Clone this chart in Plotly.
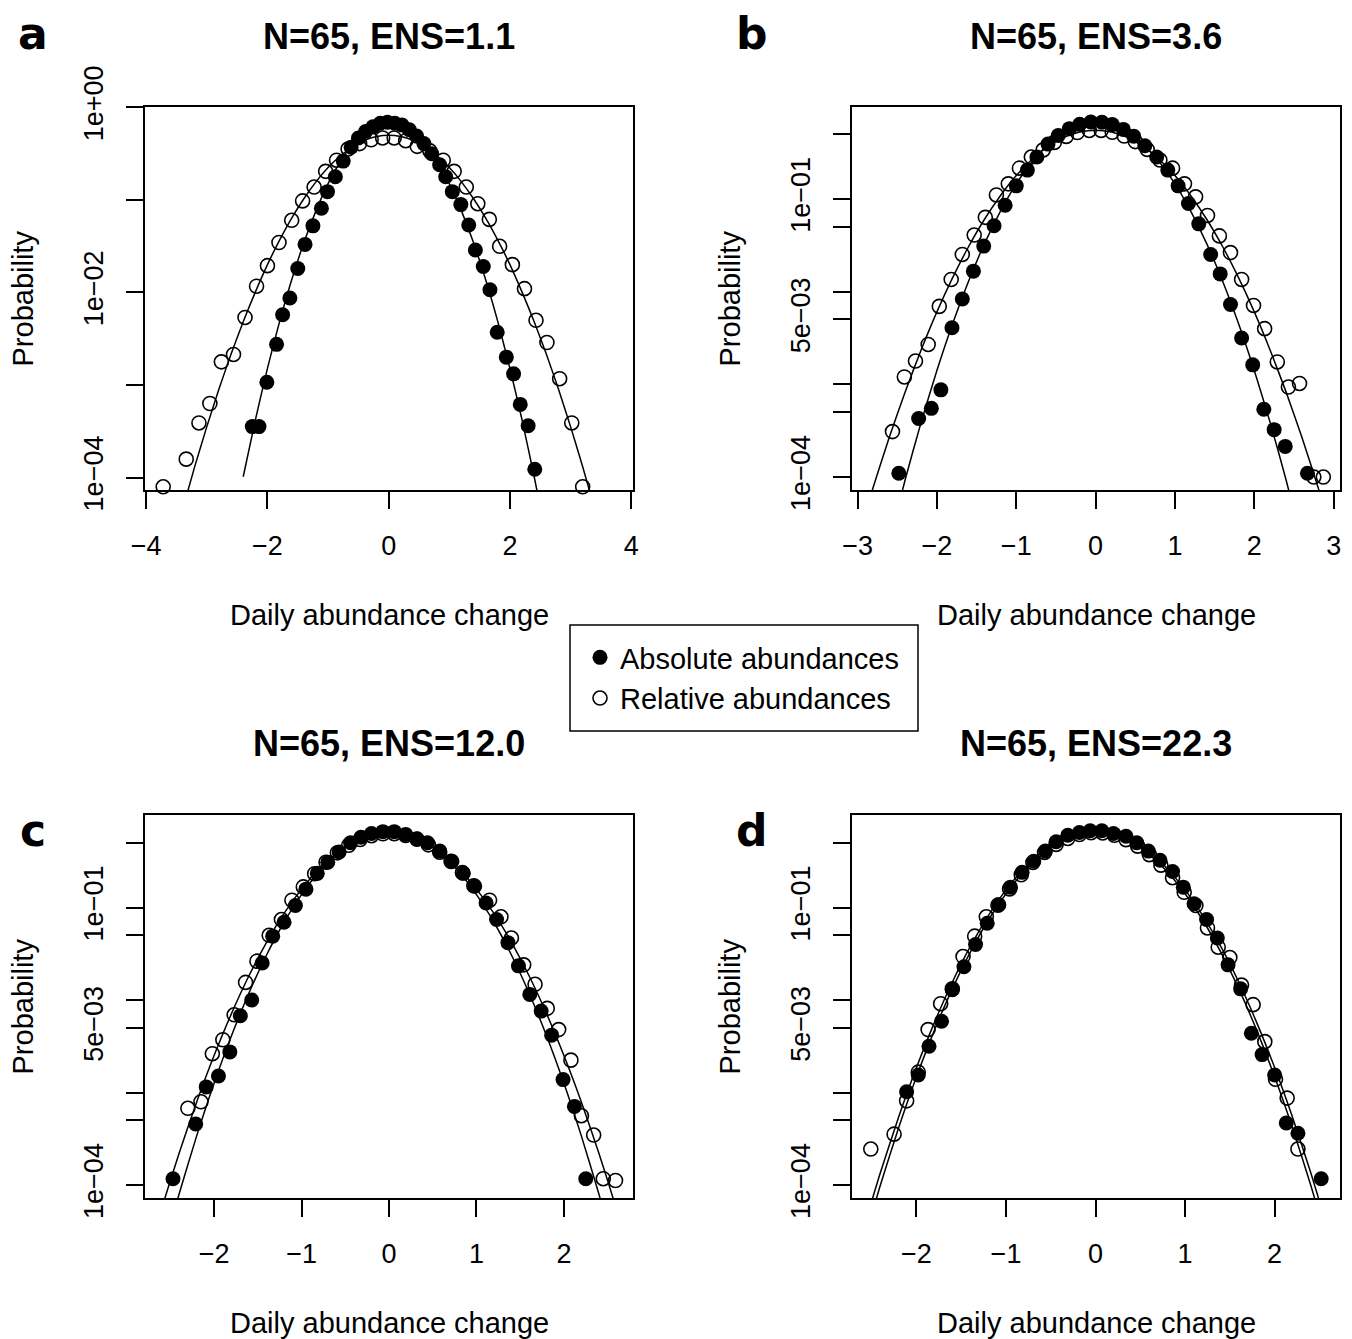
import plotly.graph_objects as go

W, H = 1352, 1339

# ---------------- data ----------------
# Panel a  (N=65, ENS=1.1)
a_abs_x = [-2.25,-2.14,-2.01,-1.85,-1.75,-1.63,-1.50,-1.38,-1.25,-1.11,-1.01,-0.88,-0.75,-0.62,-0.50,-0.38,-0.26,-0.14,-0.02,0.10,0.22,0.34,0.46,0.58,0.71,0.84,0.94,1.05,1.19,1.32,1.43,1.56,1.67,1.79,1.94,2.06,2.17,2.30,2.41]
a_abs_y = [3.55e-4,3.55e-4,1.07e-3,2.75e-3,5.75e-3,8.71e-3,1.82e-2,3.31e-2,5.25e-2,8.13e-2,0.123,0.178,0.263,0.372,0.468,0.550,0.617,0.676,0.692,0.676,0.646,0.575,0.490,0.407,0.316,0.240,0.178,0.123,0.0891,0.0537,0.0288,0.0191,0.0107,3.72e-3,2.00e-3,1.32e-3,6.17e-4,3.63e-4,1.23e-4]
a_rel_x = [-3.72,-3.34,-3.13,-2.95,-2.76,-2.56,-2.37,-2.18,-2.00,-1.81,-1.60,-1.42,-1.23,-1.04,-0.86,-0.67,-0.48,-0.29,-0.10,0.09,0.28,0.47,0.68,0.90,1.08,1.28,1.47,1.66,1.83,2.04,2.24,2.43,2.61,2.82,3.02,3.20]
a_rel_y = [7.94e-5,1.58e-4,3.89e-4,6.31e-4,1.78e-3,2.14e-3,5.37e-3,1.17e-2,1.95e-2,3.47e-2,6.03e-2,0.0977,0.138,0.204,0.269,0.355,0.407,0.447,0.468,0.468,0.437,0.380,0.339,0.269,0.204,0.138,0.0912,0.0617,0.0316,0.0200,0.0110,5.01e-3,2.88e-3,1.17e-3,3.89e-4,7.94e-5]
a_abs_fit_x = [-2.4,-2.2,-2.0,-1.8,-1.6,-1.4,-1.2,-1.0,-0.8,-0.6,-0.4,-0.2,0.0,0.2,0.4,0.6,0.8,1.0,1.2,1.4,1.6,1.8,2.0,2.2,2.4,2.46]
a_abs_fit_y = [1.02e-4,4.18e-4,1.51e-3,4.84e-3,1.374e-2,3.44e-2,7.62e-2,0.150,0.259,0.399,0.542,0.650,0.692,0.650,0.542,0.399,0.259,0.150,7.62e-2,3.44e-2,1.374e-2,4.84e-3,1.51e-3,4.18e-4,1.02e-4,6.5e-5]
a_rel_fit_x = [-3.4,-3.2,-3.0,-2.8,-2.6,-2.4,-2.2,-2.0,-1.8,-1.6,-1.4,-1.2,-1.0,-0.8,-0.6,-0.4,-0.2,0.0,0.2,0.4,0.6,0.8,1.0,1.2,1.4,1.6,1.8,2.0,2.2,2.4,2.6,2.8,3.0,3.2,3.4]
a_rel_fit_y = [4.51e-5,1.31e-4,3.55e-4,9.04e-4,2.16e-3,4.83e-3,1.01e-2,2.00e-2,3.68e-2,6.37e-2,0.103,0.157,0.224,0.299,0.375,0.441,0.485,0.501,0.485,0.441,0.375,0.299,0.224,0.157,0.103,6.37e-2,3.68e-2,2.00e-2,1.01e-2,4.83e-3,2.16e-3,9.04e-4,3.55e-4,1.31e-4,4.51e-5]

# Panel b  (N=65, ENS=3.6)
b_abs_x = [-2.48,-2.23,-2.07,-1.95,-1.81,-1.68,-1.54,-1.41,-1.28,-1.14,-1.00,-0.86,-0.74,-0.60,-0.47,-0.33,-0.20,-0.06,0.08,0.21,0.35,0.48,0.62,0.77,0.91,1.04,1.17,1.30,1.45,1.57,1.70,1.84,1.98,2.12,2.25,2.39,2.67]
b_abs_y = [1.10e-4,4.27e-4,5.50e-4,8.71e-4,4.07e-3,8.32e-3,1.66e-2,3.09e-2,5.13e-2,8.51e-2,0.138,0.204,0.282,0.389,0.481,0.571,0.635,0.673,0.670,0.631,0.560,0.474,0.373,0.282,0.204,0.138,0.0891,0.0537,0.0251,0.0155,7.24e-3,3.16e-3,1.62e-3,5.37e-4,3.24e-4,2.14e-4,1.10e-4]
b_rel_x = [-2.56,-2.41,-2.27,-2.11,-1.97,-1.82,-1.68,-1.53,-1.39,-1.25,-1.10,-0.96,-0.81,-0.66,-0.52,-0.37,-0.23,-0.08,0.07,0.21,0.36,0.50,0.65,0.81,0.97,1.12,1.26,1.41,1.56,1.70,1.84,1.99,2.13,2.29,2.43,2.57,2.75,2.87]
b_rel_y = [3.09e-4,1.20e-3,1.78e-3,2.69e-3,6.92e-3,1.35e-2,2.51e-2,4.07e-2,6.31e-2,0.110,0.145,0.214,0.282,0.337,0.406,0.471,0.518,0.546,0.547,0.522,0.475,0.414,0.341,0.262,0.214,0.145,0.105,0.0661,0.0398,0.0263,0.0135,7.08e-3,3.98e-3,1.74e-3,9.33e-4,1.02e-3,1.00e-4,1.00e-4]
b_abs_fit_x = [-2.6,-2.4,-2.2,-2.0,-1.8,-1.6,-1.4,-1.2,-1.0,-0.8,-0.6,-0.4,-0.2,0.0,0.2,0.4,0.6,0.8,1.0,1.2,1.4,1.6,1.8,2.0,2.2,2.4,2.6]
b_abs_fit_y = [2.0e-5,9.35e-5,3.86e-4,1.41e-3,4.56e-3,1.30e-2,3.29e-2,7.33e-2,0.145,0.252,0.388,0.528,0.635,0.676,0.635,0.528,0.388,0.252,0.145,7.33e-2,3.29e-2,1.30e-2,4.56e-3,1.41e-3,3.86e-4,9.35e-5,2.0e-5]
b_rel_fit_x = [-3.0,-2.8,-2.6,-2.4,-2.2,-2.0,-1.8,-1.6,-1.4,-1.2,-1.0,-0.8,-0.6,-0.4,-0.2,0.0,0.2,0.4,0.6,0.8,1.0,1.2,1.4,1.6,1.8,2.0,2.2,2.4,2.6,2.8,3.0]
b_rel_fit_y = [2.14e-5,7.91e-5,2.68e-4,8.28e-4,2.33e-3,6.03e-3,1.42e-2,3.06e-2,6.02e-2,0.108,0.178,0.267,0.366,0.459,0.525,0.550,0.525,0.459,0.366,0.267,0.178,0.108,6.02e-2,3.06e-2,1.42e-2,6.03e-3,2.33e-3,8.28e-4,2.68e-4,7.91e-5,2.14e-5]

# Panel c  (N=65, ENS=12.0)
c_abs_x = [-2.47,-2.21,-2.09,-1.95,-1.82,-1.70,-1.57,-1.45,-1.33,-1.20,-1.07,-0.95,-0.82,-0.70,-0.57,-0.44,-0.32,-0.20,-0.07,0.06,0.19,0.32,0.44,0.58,0.72,0.85,0.98,1.11,1.23,1.36,1.48,1.61,1.74,1.86,1.99,2.12,2.25]
c_abs_y = [1.17e-4,4.57e-4,1.15e-3,1.51e-3,2.75e-3,6.76e-3,1.00e-2,2.51e-2,4.90e-2,6.92e-2,0.105,0.158,0.234,0.309,0.398,0.501,0.575,0.631,0.661,0.661,0.617,0.550,0.501,0.407,0.316,0.234,0.170,0.112,0.0741,0.0417,0.0234,0.0115,7.59e-3,4.17e-3,1.38e-3,7.08e-4,1.17e-4]
c_rel_x = [-2.30,-2.15,-2.02,-1.90,-1.77,-1.64,-1.51,-1.37,-1.23,-1.11,-0.98,-0.85,-0.72,-0.59,-0.46,-0.33,-0.20,-0.07,0.06,0.19,0.32,0.45,0.58,0.71,0.84,0.97,1.15,1.28,1.40,1.54,1.67,1.81,1.94,2.08,2.20,2.34,2.45,2.59]
c_rel_y = [6.76e-4,7.94e-4,2.63e-3,3.72e-3,6.92e-3,1.55e-2,2.63e-2,5.01e-2,7.41e-2,0.120,0.167,0.232,0.308,0.390,0.471,0.543,0.597,0.627,0.628,0.600,0.548,0.476,0.396,0.315,0.238,0.172,0.120,0.0794,0.0468,0.0240,0.0148,8.13e-3,4.79e-3,2.24e-3,5.62e-4,3.47e-4,1.17e-4,1.12e-4]
c_abs_fit_x = [-2.6,-2.4,-2.2,-2.0,-1.8,-1.6,-1.4,-1.2,-1.0,-0.8,-0.6,-0.4,-0.2,0.0,0.2,0.4,0.6,0.8,1.0,1.2,1.4,1.6,1.8,2.0,2.2,2.4,2.6]
c_abs_fit_y = [1.67e-5,8.0e-5,3.38e-4,1.26e-3,4.14e-3,1.20e-2,3.07e-2,6.93e-2,0.138,0.243,0.376,0.514,0.621,0.661,0.621,0.514,0.376,0.243,0.138,6.93e-2,3.07e-2,1.20e-2,4.14e-3,1.26e-3,3.38e-4,8.0e-5,1.67e-5]
c_rel_fit_x = [-2.8,-2.6,-2.4,-2.2,-2.0,-1.8,-1.6,-1.4,-1.2,-1.0,-0.8,-0.6,-0.4,-0.2,0.0,0.2,0.4,0.6,0.8,1.0,1.2,1.4,1.6,1.8,2.0,2.2,2.4,2.6,2.8]
c_rel_fit_y = [1.25e-5,5.55e-5,2.21e-4,7.87e-4,2.51e-3,7.18e-3,1.84e-2,4.21e-2,8.63e-2,0.158,0.261,0.384,0.506,0.597,0.631,0.597,0.506,0.384,0.261,0.158,8.63e-2,4.21e-2,1.84e-2,7.18e-3,2.51e-3,7.87e-4,2.21e-4,5.55e-5,1.25e-5]

# Panel d  (N=65, ENS=22.3)
d_abs_x = [-2.11,-1.98,-1.86,-1.72,-1.60,-1.47,-1.34,-1.21,-1.08,-0.95,-0.82,-0.69,-0.56,-0.44,-0.31,-0.18,-0.06,0.07,0.20,0.34,0.46,0.59,0.72,0.86,0.98,1.10,1.24,1.36,1.48,1.62,1.74,1.86,2.00,2.13,2.26,2.52]
d_abs_y = [1.02e-3,1.55e-3,3.16e-3,5.89e-3,1.29e-2,2.29e-2,3.98e-2,6.76e-2,0.107,0.166,0.240,0.316,0.407,0.513,0.603,0.646,0.676,0.676,0.631,0.589,0.501,0.407,0.324,0.245,0.166,0.110,0.0741,0.0468,0.0240,0.0132,4.37e-3,2.57e-3,1.55e-3,4.68e-4,3.63e-4,1.17e-4]
d_rel_x = [-2.51,-2.25,-2.11,-1.98,-1.87,-1.73,-1.60,-1.48,-1.35,-1.22,-1.09,-0.96,-0.83,-0.70,-0.57,-0.44,-0.31,-0.18,-0.05,0.08,0.21,0.34,0.47,0.60,0.73,0.86,0.99,1.12,1.25,1.37,1.50,1.63,1.76,1.89,2.01,2.14,2.26]
d_rel_y = [2.45e-4,3.55e-4,8.13e-4,1.66e-3,4.79e-3,9.12e-3,1.32e-2,2.95e-2,4.90e-2,7.94e-2,0.106,0.159,0.226,0.307,0.394,0.481,0.558,0.615,0.643,0.640,0.604,0.542,0.461,0.373,0.287,0.210,0.146,0.105,0.0601,0.0372,0.0288,0.0145,8.91e-3,3.55e-3,1.39e-3,8.71e-4,2.45e-4]
d_abs_fit_x = [-2.6,-2.4,-2.2,-2.0,-1.8,-1.6,-1.4,-1.2,-1.0,-0.8,-0.6,-0.4,-0.2,0.0,0.2,0.4,0.6,0.8,1.0,1.2,1.4,1.6,1.8,2.0,2.2,2.4,2.6]
d_abs_fit_y = [3.19e-5,1.39e-4,5.40e-4,1.86e-3,5.70e-3,1.556e-2,3.77e-2,8.09e-2,0.155,0.263,0.398,0.535,0.637,0.676,0.637,0.535,0.398,0.263,0.155,8.09e-2,3.77e-2,1.556e-2,5.70e-3,1.86e-3,5.40e-4,1.39e-4,3.19e-5]
d_rel_fit_x = [-2.6,-2.4,-2.2,-2.0,-1.8,-1.6,-1.4,-1.2,-1.0,-0.8,-0.6,-0.4,-0.2,0.0,0.2,0.4,0.6,0.8,1.0,1.2,1.4,1.6,1.8,2.0,2.2,2.4,2.6]
d_rel_fit_y = [2.23e-5,1.02e-4,4.13e-4,1.48e-3,4.70e-3,1.318e-2,3.28e-2,7.24e-2,0.141,0.244,0.373,0.506,0.608,0.646,0.608,0.506,0.373,0.244,0.141,7.24e-2,3.28e-2,1.318e-2,4.70e-3,1.48e-3,4.13e-4,1.02e-4,2.23e-5]

panel_titles = ["N=65, ENS=1.1", "N=65, ENS=3.6", "N=65, ENS=12.0", "N=65, ENS=22.3"]
panel_letters = ["a", "b", "c", "d"]
x_tickvals = [[-4, -2, 0, 2, 4], [-3, -2, -1, 0, 1, 2, 3], [-2, -1, 0, 1, 2], [-2, -1, 0, 1, 2]]
y_tickvals_a = [1, 1e-1, 1e-2, 1e-3, 1e-4]
y_ticktext_a = ["1e+00", "", "1e\u221202", "", "1e\u221204"]
y_tickvals_bcd = [5e-1, 1e-1, 5e-2, 1e-2, 5e-3, 1e-3, 5e-4, 1e-4]
y_ticktext_bcd = ["", "1e\u221201", "", "", "5e\u221203", "", "", "1e\u221204"]
legend_labels = ["Absolute abundances", "Relative abundances"]
x_label = "Daily abundance change"
y_label = "Probability"

# ---------------- layout geometry (pixels of the 1352x1339 page) ----------------
def px(x):
    return x / W

def py(y):
    return 1 - y / H

frames = [  # left, right, top, bottom
    (145, 633, 107, 490),
    (852, 1340, 107, 490),
    (145, 633, 815, 1198),
    (852, 1340, 815, 1198),
]
x_ranges = [[-4.02, 4.03], [-3.07, 3.08], [-2.79, 2.79], [-2.72, 2.73]]
y_ranges = [[-4.135, 0.005], [-4.14, -0.01], [-4.14, 0.0], [-4.14, 0.0]]

FONT = "Liberation Sans, Arial, sans-serif"

panels = [
    (a_abs_x, a_abs_y, a_rel_x, a_rel_y, a_abs_fit_x, a_abs_fit_y, a_rel_fit_x, a_rel_fit_y),
    (b_abs_x, b_abs_y, b_rel_x, b_rel_y, b_abs_fit_x, b_abs_fit_y, b_rel_fit_x, b_rel_fit_y),
    (c_abs_x, c_abs_y, c_rel_x, c_rel_y, c_abs_fit_x, c_abs_fit_y, c_rel_fit_x, c_rel_fit_y),
    (d_abs_x, d_abs_y, d_rel_x, d_rel_y, d_abs_fit_x, d_abs_fit_y, d_rel_fit_x, d_rel_fit_y),
]

fig = go.Figure()
layout = dict(
    template="none",
    width=W, height=H, margin=dict(l=0, r=0, t=0, b=0, pad=0, autoexpand=False),
    paper_bgcolor="white", plot_bgcolor="white",
    font=dict(family=FONT, color="black", size=28),
    showlegend=True,
)

annotations = []
for i, (ax, ay, rx, ry, afx, afy, rfx, rfy) in enumerate(panels):
    sfx = "" if i == 0 else str(i + 1)
    xa, ya = "x" + sfx, "y" + sfx
    line_style = dict(color="black", width=1.5, shape="spline", smoothing=0.6)
    fig.add_trace(go.Scatter(x=rfx, y=rfy, mode="lines", line=line_style,
                             xaxis=xa, yaxis=ya, showlegend=False, hoverinfo="skip"))
    fig.add_trace(go.Scatter(x=afx, y=afy, mode="lines", line=line_style,
                             xaxis=xa, yaxis=ya, showlegend=False, hoverinfo="skip"))
    fig.add_trace(go.Scatter(x=rx, y=ry, mode="markers", name=legend_labels[1],
                             marker=dict(symbol="circle-open", size=14, color="black",
                                         line=dict(width=1.6, color="black")),
                             cliponaxis=False, xaxis=xa, yaxis=ya,
                             showlegend=(i == 0), legendrank=2))
    fig.add_trace(go.Scatter(x=ax, y=ay, mode="markers", name=legend_labels[0],
                             marker=dict(symbol="circle", size=15, color="black",
                                         line=dict(width=0)),
                             cliponaxis=False, xaxis=xa, yaxis=ya,
                             showlegend=(i == 0), legendrank=1))

    l, r, t, b = frames[i]
    common = dict(showline=True, mirror=True, linecolor="black", linewidth=1.5,
                  ticks="outside", ticklen=17, tickwidth=1.5, tickcolor="black",
                  showgrid=False, zeroline=False, automargin=False,
                  tickfont=dict(family=FONT, size=27, color="black"))
    ticktext_x = [("\u2212" + str(abs(v))) if v < 0 else str(v) for v in x_tickvals[i]]
    layout["xaxis" + sfx] = dict(common, domain=[px(l), px(r)], anchor=ya,
                                 range=x_ranges[i], tickvals=x_tickvals[i],
                                 ticktext=ticktext_x, ticklabelstandoff=14)
    layout["yaxis" + sfx] = dict(common, domain=[py(b), py(t)], anchor=xa,
                                 type="log", range=y_ranges[i],
                                 tickvals=y_tickvals_a if i == 0 else y_tickvals_bcd,
                                 ticktext=y_ticktext_a if i == 0 else y_ticktext_bcd,
                                 tickangle=-90, ticklabelstandoff=12)

    cx = (l + r) / 2
    title_y = 37 if i < 2 else 743
    annotations.append(dict(text="<b>" + panel_titles[i] + "</b>", x=px(cx), y=py(title_y),
                            xref="paper", yref="paper", showarrow=False,
                            xanchor="center", yanchor="middle",
                            font=dict(family=FONT, size=36, color="black")))
    letter_x = 33 if i % 2 == 0 else 752
    letter_y = 33 if i < 2 else 830
    annotations.append(dict(text="<b>" + panel_letters[i] + "</b>", x=px(letter_x), y=py(letter_y),
                            xref="paper", yref="paper", showarrow=False,
                            xanchor="center", yanchor="middle",
                            font=dict(family="DejaVu Sans, sans-serif", size=44, color="black")))
    annotations.append(dict(text=x_label, x=px(cx), y=py(b + 125),
                            xref="paper", yref="paper", showarrow=False,
                            xanchor="center", yanchor="middle",
                            font=dict(family=FONT, size=29, color="black")))
    annotations.append(dict(text=y_label, x=px(l - 123), y=py((t + b) / 2),
                            xref="paper", yref="paper", showarrow=False, textangle=-90,
                            xanchor="center", yanchor="middle",
                            font=dict(family=FONT, size=29, color="black")))

layout["annotations"] = annotations
layout["shapes"] = [dict(type="rect", xref="paper", yref="paper",
                         x0=px(570), x1=px(918), y0=py(731), y1=py(625),
                         line=dict(color="black", width=1.5), fillcolor="rgba(0,0,0,0)")]
layout["legend"] = dict(x=px(580), y=py(632), xanchor="left", yanchor="top",
                        bgcolor="rgba(0,0,0,0)", borderwidth=0,
                        font=dict(family=FONT, size=29, color="black"),
                        itemwidth=30, traceorder="normal")
fig.update_layout(**layout)

fig.write_html("out.html", config={"displayModeBar": False},
               post_script="document.body.style.margin='0px';document.body.style.overflow='hidden';")
